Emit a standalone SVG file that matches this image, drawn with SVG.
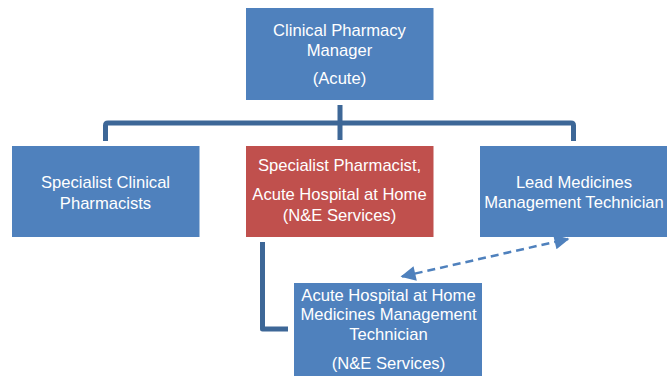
<svg xmlns="http://www.w3.org/2000/svg" width="667" height="376" viewBox="0 0 667 376">
  <style>
    .box { fill: #4f81bd; }
    .box.red { fill: #c0504d; }
    .lbl { font-family: "Liberation Sans", Arial, sans-serif; font-size: 16.6px; fill: #ffffff; text-anchor: middle; }
    .tree { fill: none; stroke: #3d6797; stroke-width: 5; stroke-linejoin: round; }
    .dash { fill: none; stroke: #4f81bd; stroke-width: 2.5; stroke-dasharray: 8 5; }
  </style>
  <defs>
    <marker id="tri" viewBox="0 0 10 10" refX="9" refY="5" markerWidth="6.5" markerHeight="6" orient="auto-start-reverse" markerUnits="strokeWidth">
      <path d="M0,0 L10,5 L0,10 z" fill="#4f81bd"/>
    </marker>
  </defs>
  <rect width="667" height="376" fill="#ffffff"/>

  <!-- connectors -->
  <g id="connectors">
    <path class="tree" d="M340,105 V140"/>
    <path class="tree" d="M105.5,141 V125.5 Q105.5,123 108,123 H571 Q573.5,123 573.5,125.5 V141"/>
    <path class="tree" d="M262.5,242 V329 H288" stroke-linejoin="miter"/>
    <path class="dash" d="M402,276.5 L568,239" marker-start="url(#tri)" marker-end="url(#tri)"/>
  </g>

  <g id="manager">
    <rect class="box" x="246" y="8" width="187.5" height="92"/>
    <text class="lbl" x="339.5" y="36">Clinical Pharmacy</text>
    <text class="lbl" x="339.5" y="56">Manager</text>
    <text class="lbl" x="339.5" y="84">(Acute)</text>
  </g>

  <g id="specialists">
    <rect class="box" x="12" y="146" width="187.5" height="91"/>
    <text class="lbl" x="105.5" y="187.5">Specialist Clinical</text>
    <text class="lbl" x="105.5" y="208.5">Pharmacists</text>
  </g>

  <g id="ahah-pharmacist">
    <rect class="box red" x="246" y="146" width="187.5" height="91"/>
    <text class="lbl" x="339.5" y="171">Specialist Pharmacist,</text>
    <text class="lbl" x="339.5" y="200">Acute Hospital at Home</text>
    <text class="lbl" x="339.5" y="221">(N&amp;E Services)</text>
  </g>

  <g id="lead-technician">
    <rect class="box" x="480" y="146" width="187.5" height="91"/>
    <text class="lbl" x="574" y="187.5">Lead Medicines</text>
    <text class="lbl" x="574" y="208">Management Technician</text>
  </g>

  <g id="ahah-technician">
    <rect class="box" x="294" y="283" width="188" height="93"/>
    <text class="lbl" x="388.5" y="301">Acute Hospital at Home</text>
    <text class="lbl" x="388.5" y="320">Medicines Management</text>
    <text class="lbl" x="388.5" y="340">Technician</text>
    <text class="lbl" x="388.5" y="369">(N&amp;E Services)</text>
  </g>
</svg>
